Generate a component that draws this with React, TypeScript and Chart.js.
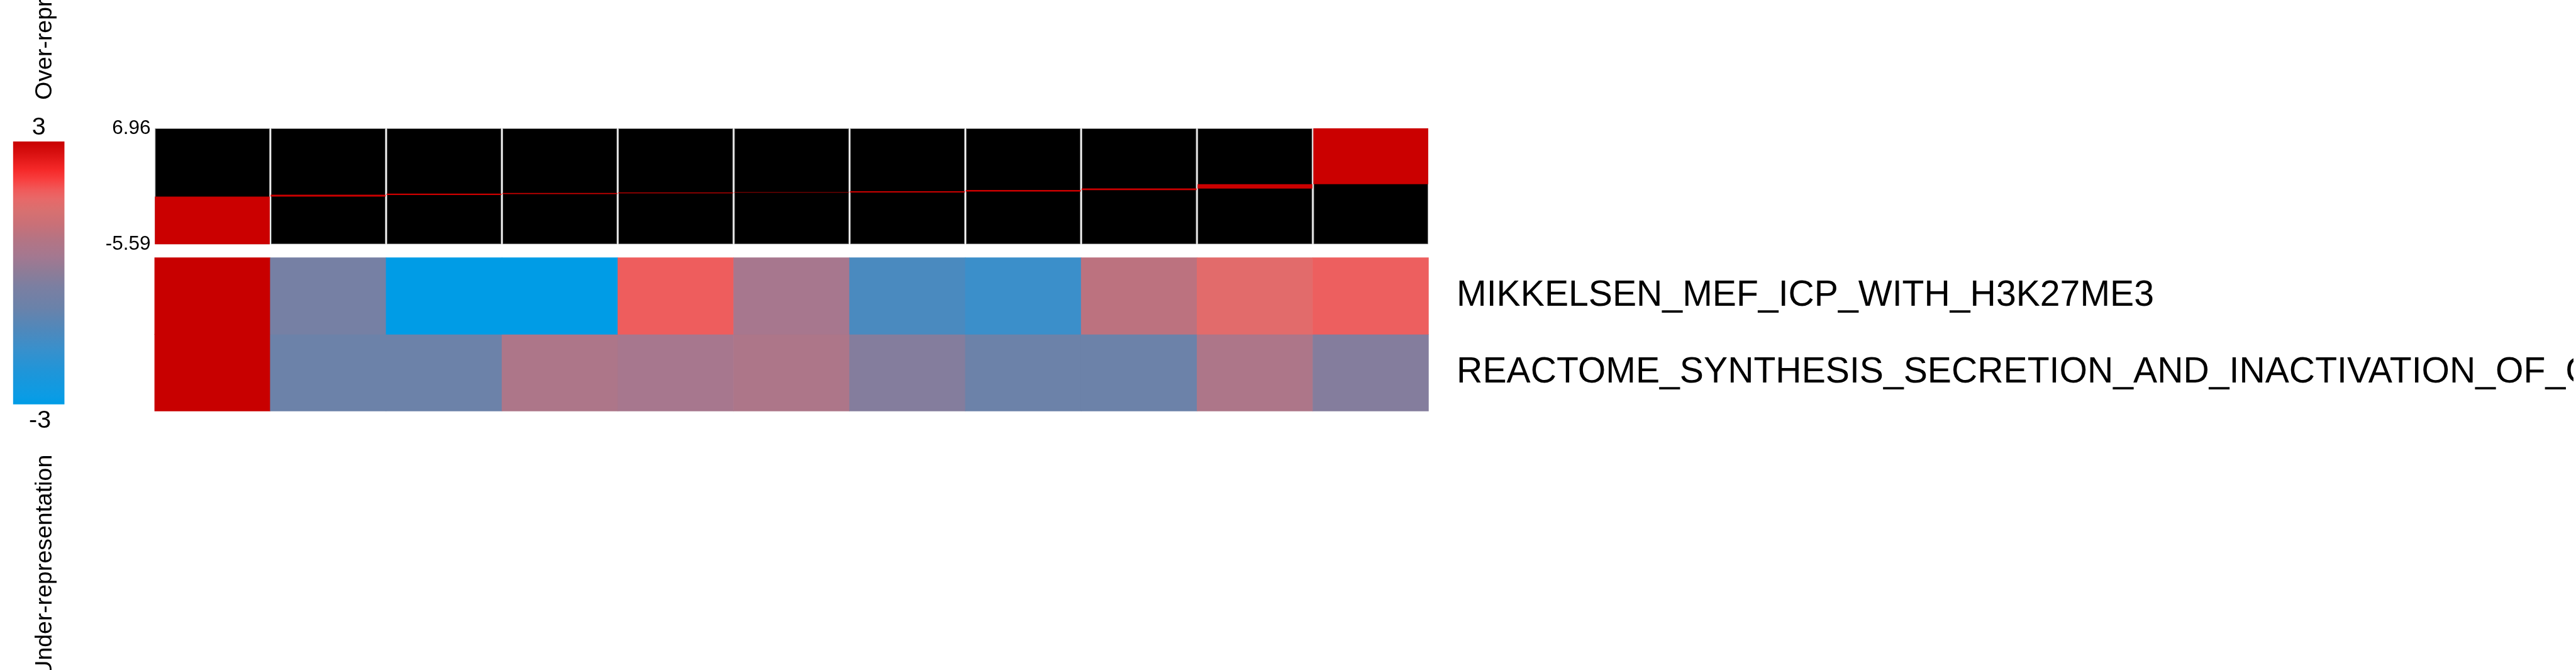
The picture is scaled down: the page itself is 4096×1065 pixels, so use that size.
import React, { useEffect, useRef } from "react";
import { Chart, registerables } from "chart.js";

Chart.register(...registerables);

// ---------- data ----------
const columns = ["1", "2", "3", "4", "5", "6", "7", "8", "9", "10", "11"];

// top panel: axis range and red range per column
const profileMin = -5.59;
const profileMax = 6.96;
const profileLow = [-5.59, -0.42, -0.24, -0.15, -0.06, 0.0, 0.03, 0.13, 0.28, 0.45, 0.92];
const profileHigh = [-0.42, -0.22, -0.09, -0.02, 0.02, 0.06, 0.16, 0.3, 0.47, 0.92, 6.96];

// heatmap rows
const rowLabels = [
  "MIKKELSEN_MEF_ICP_WITH_H3K27ME3",
  "REACTOME_SYNTHESIS_SECRETION_AND_INACTIVATION_OF_GLP1",
];
const row1Values = [3, -0.45, -3, -3, 1.85, 0.45, -1.4, -1.7, 0.9, 1.6, 1.82];
const row2Values = [3, -0.75, -0.75, 0.6, 0.45, 0.6, -0.15, -0.75, -0.75, 0.6, -0.15];

// colour scale
const scaleMin = -3;
const scaleMax = 3;
const paletteValues = [3, 2.74, 2.36, 2.12, 1.89, 1.7, 1.42, 1.09, 0.76, 0.38, 0, -0.33, -0.8, -1.28, -1.75, -2.22, -2.83, -3];
const paletteColors = [
  "#C80000", "#D81010", "#F52828", "#F84040", "#F05A5A", "#E86868", "#D87070", "#C87078",
  "#B47484", "#A47890", "#8C7C98", "#7A7FA2", "#6A82AA", "#5088BB", "#3890CC", "#2095D8",
  "#0A9CE5", "#009CE6",
];
const legendTop = "Over-representation";
const legendBottom = "Under-representation";

// ---------- helpers ----------
const S = 0.986;
const W = 4096;
const H = 1065;
const FONT = "'Liberation Sans', Arial, Helvetica, sans-serif";

function hexToRgb(h: string) {
  const n = parseInt(h.slice(1), 16);
  return [(n >> 16) & 255, (n >> 8) & 255, n & 255];
}
function colorFor(v: number) {
  const x = Math.max(scaleMin, Math.min(scaleMax, v));
  for (let i = 0; i < paletteValues.length - 1; i++) {
    const a = paletteValues[i];
    const b = paletteValues[i + 1];
    if (x <= a && x >= b) {
      const t = a === b ? 0 : (a - x) / (a - b);
      const ca = hexToRgb(paletteColors[i]);
      const cb = hexToRgb(paletteColors[i + 1]);
      const c = ca.map((q, k) => Math.round(q + (cb[k] - q) * t));
      return `rgb(${c[0]},${c[1]},${c[2]})`;
    }
  }
  return paletteColors[paletteColors.length - 1];
}

export default function App() {
  const legendRef = useRef<HTMLCanvasElement>(null);
  const profileRef = useRef<HTMLCanvasElement>(null);
  const heatRef = useRef<HTMLCanvasElement>(null);

  // geometry
  const legW = Math.round(150 * S);
  const profTop = Math.round(175 * S);
  const profW = Math.round(2320 * S);
  const profH = Math.round(245 * S);
  const heatTop = Math.round(400 * S);
  const heatH = Math.round(285 * S);
  const heatW = Math.round(4150 * S);

  useEffect(() => {
    document.body.style.margin = "0";
    document.body.style.overflow = "hidden";

    const charts: Chart[] = [];

    // ---------- legend ----------
    const legendText = {
      id: "legendText",
      afterDraw(chart: any) {
        const c = chart.ctx;
        const ys = chart.scales.y;
        const { left, right } = chart.chartArea;
        const cx = (left + right) / 2;
        const yTop = ys.getPixelForValue(scaleMax);
        const yBot = ys.getPixelForValue(scaleMin);
        c.save();
        c.fillStyle = "#000";
        c.textBaseline = "alphabetic";
        c.font = `${40 * S}px ${FONT}`;
        c.textAlign = "center";
        c.fillText(String(scaleMax), cx, yTop - 11 * S);
        c.fillText(String(scaleMin), cx + 2 * S, yBot + 38 * S);
        c.font = `${38 * S}px ${FONT}`;
        c.save();
        c.translate(83 * S, yTop - 67 * S);
        c.rotate(-Math.PI / 2);
        c.textAlign = "left";
        c.fillText(legendTop, 0, 0);
        c.restore();
        c.save();
        c.translate(83 * S, yBot + 81 * S);
        c.rotate(-Math.PI / 2);
        c.textAlign = "right";
        c.fillText(legendBottom, 0, 0);
        c.restore();
        c.restore();
      },
    };
    charts.push(
      new Chart(legendRef.current!, {
        type: "bar",
        data: {
          labels: ["scale"],
          datasets: [
            {
              data: [[scaleMin, scaleMax]] as any,
              backgroundColor: (ctx: any) => {
                const chart = ctx.chart;
                const ys = chart.scales && chart.scales.y;
                if (!ys || !chart.chartArea) return paletteColors[0];
                const g = chart.ctx.createLinearGradient(0, ys.getPixelForValue(scaleMax), 0, ys.getPixelForValue(scaleMin));
                paletteValues.forEach((v, i) => g.addColorStop((scaleMax - v) / (scaleMax - scaleMin), paletteColors[i]));
                return g;
              },
              borderWidth: 0,
              barPercentage: 1,
              categoryPercentage: 1,
            },
          ],
        },
        options: {
          animation: false,
          responsive: false,
          maintainAspectRatio: false,
          layout: { padding: { left: 21 * S, right: legW - 104 * S, top: 228 * S, bottom: H - 652 * S } },
          scales: {
            x: { display: false },
            y: { display: false, min: scaleMin, max: scaleMax },
          },
          plugins: { legend: { display: false }, tooltip: { enabled: false } },
        },
        plugins: [legendText],
      })
    );

    // ---------- profile (top panel) ----------
    charts.push(
      new Chart(profileRef.current!, {
        type: "bar",
        data: {
          labels: columns,
          datasets: [
            {
              data: columns.map((_, i) => [profileLow[i], profileHigh[i]]) as any,
              backgroundColor: "#CB0000",
              borderWidth: 0,
              order: 0,
              grouped: false,
              barPercentage: 0.992,
              categoryPercentage: 1,
            } as any,
            {
              data: columns.map(() => [profileMin, profileMax]) as any,
              backgroundColor: "#000000",
              borderColor: "#8c8c8c",
              borderWidth: 1,
              borderSkipped: false,
              order: 1,
              grouped: false,
              barPercentage: 0.992,
              categoryPercentage: 1,
            } as any,
          ],
        },
        options: {
          animation: false,
          responsive: false,
          maintainAspectRatio: false,
          layout: {
            padding: {
              left: 0,
              right: profW - 2304 * S,
              top: 207 * S - profTop,
              bottom: profTop + profH - 394 * S,
            },
          },
          scales: {
            x: { display: false },
            y: {
              min: profileMin,
              max: profileMax,
              position: "left",
              grid: { display: false, drawTicks: false },
              border: { display: false },
              afterBuildTicks: (sc: any) => {
                sc.ticks = [{ value: profileMax }, { value: profileMin }];
              },
              afterFit: (sc: any) => {
                sc.width = 249 * S;
                sc.paddingTop = 0;
                sc.paddingBottom = 0;
              },
              ticks: {
                autoSkip: false,
                color: "#000",
                padding: 6 * S,
                font: { size: 32 * S, family: FONT },
                callback: (v: any) => Number(v).toFixed(2),
              },
            },
          },
          plugins: { legend: { display: false }, tooltip: { enabled: false } },
        },
      })
    );

    // ---------- heatmap ----------
    charts.push(
      new Chart(heatRef.current!, {
        type: "bar",
        data: {
          labels: columns,
          datasets: [
            {
              label: rowLabels[0],
              data: columns.map(() => [1, 2]) as any,
              backgroundColor: row1Values.map(colorFor),
              borderWidth: 0,
              grouped: false,
              barPercentage: 1,
              categoryPercentage: 1,
            } as any,
            {
              label: rowLabels[1],
              data: columns.map(() => [0, 1]) as any,
              backgroundColor: row2Values.map(colorFor),
              borderWidth: 0,
              grouped: false,
              barPercentage: 1,
              categoryPercentage: 1,
            } as any,
          ],
        },
        options: {
          animation: false,
          responsive: false,
          maintainAspectRatio: false,
          layout: {
            padding: {
              left: 249 * S,
              right: 0,
              top: 415 * S - heatTop,
              bottom: heatTop + heatH - 663 * S,
            },
          },
          scales: {
            x: { display: false },
            y: {
              min: 0,
              max: 2,
              position: "right",
              grid: { display: false, drawTicks: false },
              border: { display: false },
              afterBuildTicks: (sc: any) => {
                sc.ticks = [{ value: 1.5 }, { value: 0.5 }];
              },
              afterFit: (sc: any) => {
                sc.width = heatW - 2304 * S;
                sc.paddingTop = 0;
                sc.paddingBottom = 0;
              },
              ticks: {
                autoSkip: false,
                color: "#000",
                padding: 45 * S,
                font: { size: 58 * S, family: FONT },
                callback: (v: any) => (Number(v) > 1 ? rowLabels[0] : rowLabels[1]),
              },
            },
          },
          plugins: { legend: { display: false }, tooltip: { enabled: false } },
        },
      })
    );

    return () => charts.forEach((c) => c.destroy());
  }, []);

  return (
    <div style={{ position: "relative", width: W, height: H, background: "#fff", overflow: "hidden" }}>
      <canvas
        ref={profileRef}
        width={profW}
        height={profH}
        style={{ position: "absolute", left: 0, top: profTop, width: profW, height: profH }}
      />
      <canvas
        ref={heatRef}
        width={heatW}
        height={heatH}
        style={{ position: "absolute", left: 0, top: heatTop, width: heatW, height: heatH }}
      />
      <canvas
        ref={legendRef}
        width={legW}
        height={H}
        style={{ position: "absolute", left: 0, top: 0, width: legW, height: H }}
      />
    </div>
  );
}
